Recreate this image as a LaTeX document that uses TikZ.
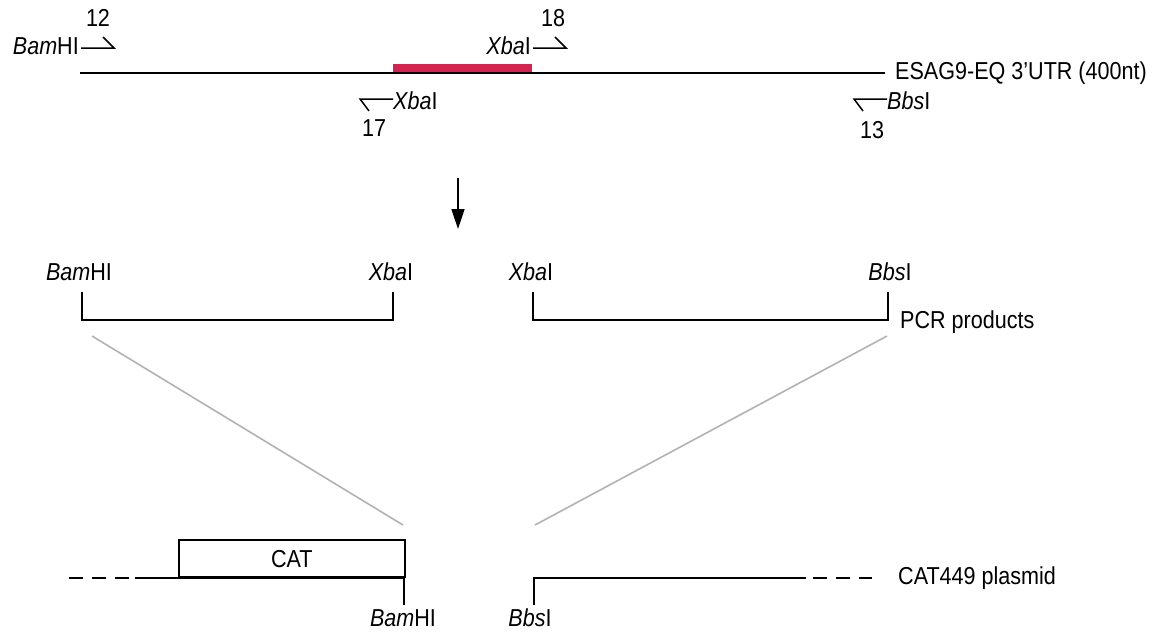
\documentclass[tikz,border=0pt]{standalone}
\usepackage{fontspec}
\setmainfont[FakeStretch=0.88]{Liberation Sans}
\usetikzlibrary{arrows.meta}
\begin{document}
\begin{tikzpicture}[x=1pt,y=-1pt,
  dna/.style={line width=1.8pt, draw=black},
  primer/.style={line width=1.5pt, draw=black},
  guide/.style={line width=1.6pt, draw=black!30},
  insert/.style={fill={rgb,255:red,214;green,34;blue,80}, draw=none},
  lbl/.style={font=\fontsize{24.5}{28}\selectfont, inner sep=0pt},
  dashpart/.style={line width=1.8pt, draw=black, dash pattern=on 14pt off 9pt}]
\useasboundingbox (0,0) rectangle (1167,632);

% ---- ESAG9-EQ 3'UTR with primers ----
\coordinate (utrL) at (80,73);
\coordinate (utrR) at (885,73);
\fill[insert] (393,64) rectangle (532,74);
\draw[dna] (utrL) -- (utrR);
\node[lbl, anchor=west] (utr) at (895,73) {ESAG9-EQ 3'UTR (400nt)};

% primer 12 (forward, BamHI)
\node[lbl, anchor=east] (p12site) at (79,46) {\textit{Bam}HI};
\node[lbl] (p12) at (98,18) {12};
\coordinate (p12a) at (81,48);
\coordinate (p12b) at (114,48);
\coordinate (p12c) at (103,37);
\draw[primer] (p12a) -- (p12b) -- (p12c);

% primer 18 (forward, XbaI)
\node[lbl, anchor=east] (p18site) at (531,46) {\textit{Xba}I};
\node[lbl] (p18) at (553,18) {18};
\coordinate (p18a) at (533,48);
\coordinate (p18b) at (566,48);
\coordinate (p18c) at (555,37);
\draw[primer] (p18a) -- (p18b) -- (p18c);

% primer 17 (reverse, XbaI)
\node[lbl, anchor=west] (p17site) at (393,101) {\textit{Xba}I};
\node[lbl] (p17) at (374,128) {17};
\coordinate (p17a) at (393,99);
\coordinate (p17b) at (360,99);
\coordinate (p17c) at (369,111);
\draw[primer] (p17a) -- (p17b) -- (p17c);

% primer 13 (reverse, BbsI)
\node[lbl, anchor=west] (p13site) at (887,101) {\textit{Bbs}I};
\node[lbl] (p13) at (872,130) {13};
\coordinate (p13a) at (887,99);
\coordinate (p13b) at (854,99);
\coordinate (p13c) at (863,111);
\draw[primer] (p13a) -- (p13b) -- (p13c);

% ---- PCR step ----
\coordinate (arrTop) at (458,178);
\coordinate (arrBot) at (458,229);
\draw[line width=1.6pt, -{Triangle[width=13pt,length=20pt]}] (arrTop) -- (arrBot);

% ---- PCR products ----
\node[lbl] (pc1L) at (79,272) {\textit{Bam}HI};
\node[lbl] (pc1R) at (391,272) {\textit{Xba}I};
\node[lbl] (pc2L) at (531,272) {\textit{Xba}I};
\node[lbl] (pc2R) at (890,272) {\textit{Bbs}I};
\coordinate (f1a) at (82,292);
\coordinate (f1b) at (82,320);
\coordinate (f1c) at (393,320);
\coordinate (f1d) at (393,292);
\draw[dna] (f1a) -- (f1b) -- (f1c) -- (f1d);
\coordinate (f2a) at (533,292);
\coordinate (f2b) at (533,320);
\coordinate (f2c) at (888,320);
\coordinate (f2d) at (888,292);
\draw[dna] (f2a) -- (f2b) -- (f2c) -- (f2d);
\node[lbl, anchor=west] (pcr) at (900,322) {PCR products};

% ---- cloning guides ----
\coordinate (g1a) at (92,336);
\coordinate (g1b) at (403,525);
\coordinate (g2a) at (887,336);
\coordinate (g2b) at (535,525);
\draw[guide] (g1a) -- (g1b);
\draw[guide] (g2a) -- (g2b);

% ---- CAT449 plasmid ----
\node[lbl, draw, line width=1.8pt, minimum width=226pt, minimum height=37pt,
      anchor=south west] (cat) at (178,578) {CAT};
\coordinate (plL) at (135,578);
\coordinate (plLd) at (69,578);
\coordinate (bamCut) at (404,578);
\coordinate (bamTick) at (404,605);
\draw[dashpart] (plLd) -- (plL);
\draw[dna] (plL) -- (bamCut) -- (bamTick);
\node[lbl] (plBam) at (403,618) {\textit{Bam}HI};

\coordinate (bbsTick) at (534,605);
\coordinate (bbsCut) at (534,578);
\coordinate (plR) at (806,578);
\coordinate (plRd) at (872,578);
\draw[dna] (bbsTick) -- (bbsCut) -- (plR);
\draw[dashpart] ([xshift=7pt]plR) -- (plRd);
\node[lbl] (plBbs) at (530,618) {\textit{Bbs}I};
\node[lbl, anchor=west] (plasmid) at (898,578) {CAT449 plasmid};
\end{tikzpicture}
\end{document}
